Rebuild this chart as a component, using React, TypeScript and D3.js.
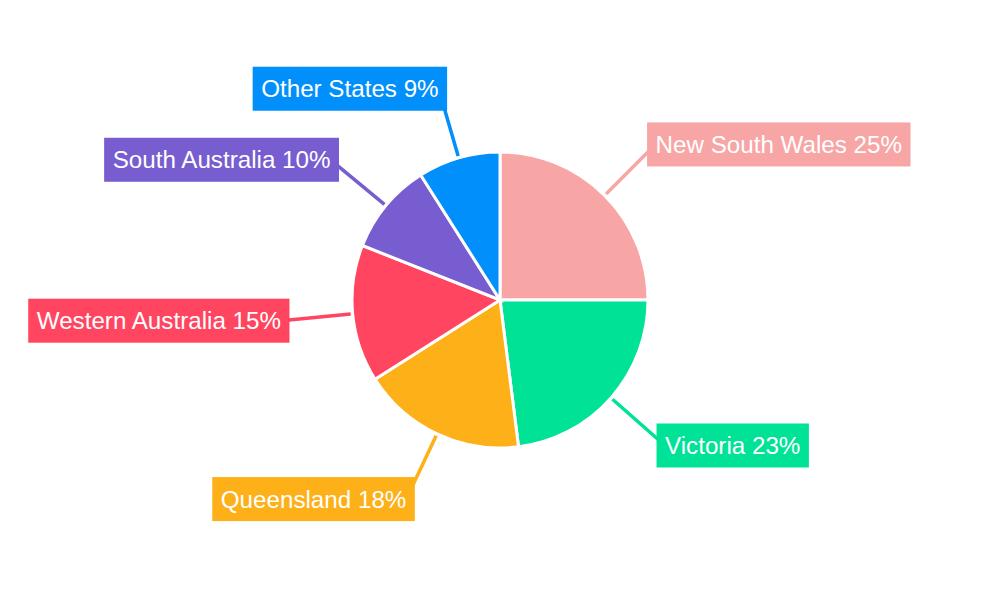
import React from "react";
import * as d3 from "d3";

const categories = ["New South Wales", "Victoria", "Queensland", "Western Australia", "South Australia", "Other States"];
const values = [25, 23, 18, 15, 10, 9];
const colors = ["#F8A5A6", "#00E396", "#FEB019", "#FF4560", "#775DD0", "#008FFB"];

const W = 1000;
const H = 600;
const CX = 500;
const CY = 300;
const R = 148;

export default function App() {
  const pie = d3.pie<number>().sort(null).value((d) => d)(values);
  const arc = d3.arc<d3.PieArcDatum<number>>().innerRadius(0).outerRadius(R);
  const total = d3.sum(values);
  const fontSize = 24.2;
  const padX = 8.5;
  const boxH = 44;

  return (
    <svg
      width={W}
      height={H}
      style={{ position: "absolute", left: 0, top: 0, background: "#fff" }}
      fontFamily="'Liberation Sans', Arial, sans-serif"
    >
      <g transform={`translate(${CX},${CY})`}>
        {pie.map((p, i) => (
          <path key={i} d={arc(p) || ""} fill={colors[i]} stroke="#fff" strokeWidth={3} />
        ))}
        {pie.map((p, i) => {
          const mid = (p.startAngle + p.endAngle) / 2;
          const s = Math.sin(mid);
          const c = -Math.cos(mid);
          const x1 = s * (R + 2), y1 = c * (R + 2);
          const x2 = s * 212, y2 = c * 212;
          const tx = s * 220, ty = c * 220;
          const right = s >= 0;
          const label = `${categories[i]} ${Math.round((values[i] / total) * 100)}%`;
          return (
            <g key={"l" + i}>
              <line x1={x1} y1={y1} x2={x2} y2={y2} stroke={colors[i]} strokeWidth={3.5} />
              <LabelBox x={tx} y={ty} right={right} text={label} color={colors[i]} fontSize={fontSize} padX={padX} boxH={boxH} />
            </g>
          );
        })}
      </g>
    </svg>
  );
}

function LabelBox({ x, y, right, text, color, fontSize, padX, boxH }: any) {
  const ref = React.useRef<SVGTextElement>(null);
  const [w, setW] = React.useState(0);
  React.useLayoutEffect(() => {
    if (ref.current) setW(ref.current.getComputedTextLength());
  }, [text]);
  const left = right ? x - padX : x - w - padX;
  return (
    <g>
      <rect x={left} y={y - boxH / 2} width={w + 2 * padX} height={boxH} fill={color} />
      <text
        ref={ref}
        x={x}
        y={y}
        dy="0.35em"
        textAnchor={right ? "start" : "end"}
        fill="#fff"
        fontSize={fontSize}
      >
        {text}
      </text>
    </g>
  );
}
